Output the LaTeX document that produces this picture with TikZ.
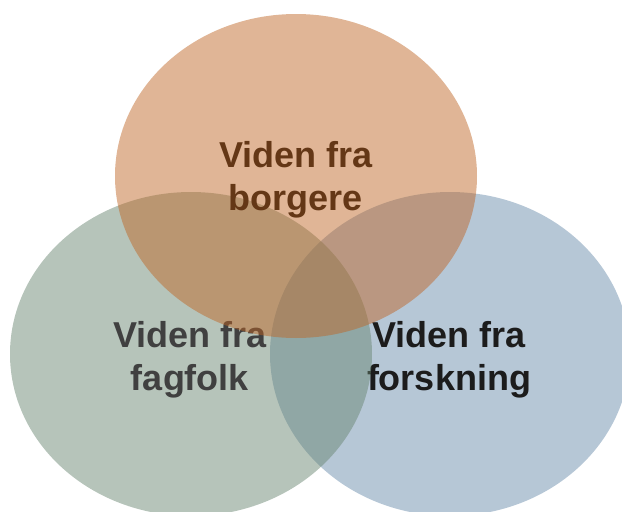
\documentclass[tikz,border=0pt]{standalone}
\usepackage{fontspec}
\setmainfont{Liberation Sans}
\definecolor{ocol}{RGB}{190,101,36}
\definecolor{gcol}{RGB}{103,132,111}
\definecolor{bcol}{RGB}{103,138,170}
\definecolor{otext}{RGB}{100,55,22}
\definecolor{gtext}{RGB}{64,64,64}
\definecolor{btext}{RGB}{28,28,28}
\tikzset{
  venn/.style={fill opacity=0.48, draw=none},
  lbl/.style={align=center, inner sep=0pt, font=\fontsize{36}{43}\selectfont\bfseries, anchor=center}
}
\begin{document}
\begin{tikzpicture}[x=1pt,y=-1pt]
\useasboundingbox (0,0) rectangle (622,512);
\begin{scope}
\clip (0,0) rectangle (622,512);
\fill[venn, bcol] (450,354) ellipse [x radius=180, y radius=162];
\node[lbl, text=btext] (forsk) at (449,360) {Viden fra\\forskning};
\fill[venn, gcol] (191,354) ellipse [x radius=181, y radius=162];
\node[lbl, text=gtext] (fag) at (190,360) {Viden fra\\fagfolk};
\fill[venn, ocol] (296,176) ellipse [x radius=181, y radius=162];
\node[lbl, text=otext] (borg) at (296,180) {Viden fra\\borgere};
\end{scope}
\end{tikzpicture}
\end{document}
